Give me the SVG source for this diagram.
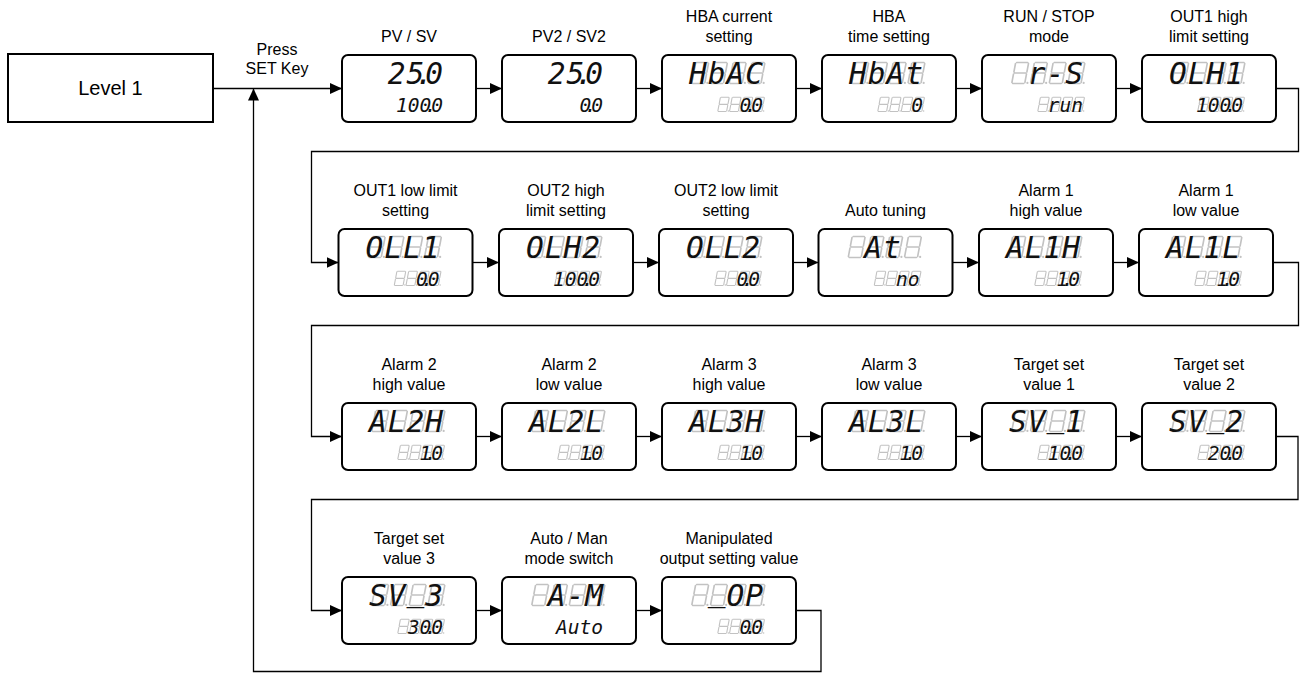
<svg xmlns="http://www.w3.org/2000/svg" width="1301" height="673" viewBox="0 0 1301 673">
<defs>
<style>
.box{fill:#fff;stroke:#000;stroke-width:2}
.lvl{fill:#fff;stroke:#000;stroke-width:2}
.lbl{font-family:"Liberation Sans",Arial,sans-serif;font-size:16px;text-anchor:middle;fill:#000}
.big1{font-family:"Liberation Sans",Arial,sans-serif;font-size:20px;text-anchor:middle;fill:#000}
.seg{font-family:"DejaVu Sans Mono",monospace;font-style:italic;fill:#111}
.t{font-size:29.5px}
.b{font-size:19.5px}
.ghost{fill:none;stroke:#c2c2c2;stroke-width:1.6;stroke-linecap:round}
.gdot{fill:#c2c2c2}
.conn{fill:none;stroke:#000;stroke-width:1.3}
</style>
<marker id="arr" markerWidth="12" markerHeight="11" refX="12" refY="5.5" orient="auto" markerUnits="userSpaceOnUse">
<path d="M0,0 L12,5.5 L0,11 z" fill="#000"/>
</marker>
<g id="cell">
<path class="ghost" d="M6.5,-21 L17.5,-21 M18.3,-20 L16.7,-11.5 M5.3,-20 L3.7,-11.5 M4.5,-10.5 L15.5,-10.5 M3.3,-9.5 L1.7,-1 M16.3,-9.5 L14.7,-1 M2.5,0 L13.5,0"/>
<circle class="gdot" cx="17.2" cy="-0.6" r="1.1"/>
</g>
<g id="gT">
<use href="#cell" transform="translate(28.2,28.5)"/>
<use href="#cell" transform="translate(46.95,28.5)"/>
<use href="#cell" transform="translate(65.7,28.5)"/>
<use href="#cell" transform="translate(84.45,28.5)"/>
</g>
<g id="gB">
<use href="#cell" transform="translate(54.7,56.5) scale(0.68)"/>
<use href="#cell" transform="translate(66.45,56.5) scale(0.68)"/>
<use href="#cell" transform="translate(78.2,56.5) scale(0.68)"/>
<use href="#cell" transform="translate(89.95,56.5) scale(0.68)"/>
</g>
</defs>
<rect width="1301" height="673" fill="#fff"/>

<g id="connectors">
<path class="conn" marker-end="url(#arr)" d="M214,88.5 H342"/>
<path class="conn" marker-end="url(#arr)" d="M476,88.5 H502"/>
<path class="conn" marker-end="url(#arr)" d="M636,88.5 H662"/>
<path class="conn" marker-end="url(#arr)" d="M796,88.5 H822"/>
<path class="conn" marker-end="url(#arr)" d="M956,88.5 H982"/>
<path class="conn" marker-end="url(#arr)" d="M1116,88.5 H1142"/>
<path class="conn" marker-end="url(#arr)" d="M1276,88.5 H1298.5 V151.5 H311.5 V262.5 H338.5"/>
<path class="conn" marker-end="url(#arr)" d="M472.5,262.5 H499"/>
<path class="conn" marker-end="url(#arr)" d="M633,262.5 H659"/>
<path class="conn" marker-end="url(#arr)" d="M793,262.5 H818.5"/>
<path class="conn" marker-end="url(#arr)" d="M952.5,262.5 H979"/>
<path class="conn" marker-end="url(#arr)" d="M1113,262.5 H1139"/>
<path class="conn" marker-end="url(#arr)" d="M1273,262.5 H1298.5 V325.5 H311.5 V436.5 H342"/>
<path class="conn" marker-end="url(#arr)" d="M476,436.5 H502"/>
<path class="conn" marker-end="url(#arr)" d="M636,436.5 H662"/>
<path class="conn" marker-end="url(#arr)" d="M796,436.5 H822"/>
<path class="conn" marker-end="url(#arr)" d="M956,436.5 H982"/>
<path class="conn" marker-end="url(#arr)" d="M1116,436.5 H1142"/>
<path class="conn" marker-end="url(#arr)" d="M1276,436.5 H1298 V499.5 H311.5 V610.5 H342"/>
<path class="conn" marker-end="url(#arr)" d="M476,610.5 H502"/>
<path class="conn" marker-end="url(#arr)" d="M636,610.5 H662"/>
<path class="conn" marker-end="url(#arr)" d="M796,610.5 H821 V671.5 H253.5 V88.5"/>
<text class="lbl" x="277" y="55">Press</text>
<text class="lbl" x="277" y="74">SET Key</text>
</g>

<g id="level1">
<rect class="lvl" x="8" y="54" width="205" height="68"/>
<text class="big1" x="110.5" y="95">Level 1</text>
</g>

<g id="n01" transform="translate(342,55)">
<rect class="box" width="134" height="67" rx="6"/>
<text class="lbl" x="67" y="-13.5">PV / SV</text>
<text class="seg t" x="45.75 64.5 73.6 83.25" y="28.5">25.0</text>
<text class="seg b" x="54 65.75 77.5 82.9 89.25" y="56.5">100.0</text>
</g>

<g id="n02" transform="translate(502,55)">
<rect class="box" width="134" height="67" rx="6"/>
<text class="lbl" x="67" y="-13.5">PV2 / SV2</text>
<text class="seg t" x="45.75 64.5 73.6 83.25" y="28.5">25.0</text>
<text class="seg b" x="77.5 82.9 89.25" y="56.5">0.0</text>
</g>

<g id="n03" transform="translate(662,55)">
<rect class="box" width="134" height="67" rx="6"/>
<text class="lbl" x="67" y="-33">HBA current</text>
<text class="lbl" x="67" y="-13.5">setting</text>
<use href="#gT"/><use href="#gB"/>
<text class="seg t" x="27 45.75 64.5 83.25" y="28.5">HbAC</text>
<text class="seg b" x="77.5 82.9 89.25" y="56.5">0.0</text>
</g>

<g id="n04" transform="translate(822,55)">
<rect class="box" width="134" height="67" rx="6"/>
<text class="lbl" x="67" y="-33">HBA</text>
<text class="lbl" x="67" y="-13.5">time setting</text>
<use href="#gT"/><use href="#gB"/>
<text class="seg t" x="27 45.75 64.5 83.25" y="28.5">HbAt</text>
<text class="seg b" x="89.25" y="56.5">0</text>
</g>

<g id="n05" transform="translate(982,55)">
<rect class="box" width="134" height="67" rx="6"/>
<text class="lbl" x="67" y="-33">RUN / STOP</text>
<text class="lbl" x="67" y="-13.5">mode</text>
<use href="#gT"/><use href="#gB"/>
<text class="seg t" x="45.75 64.5 83.25" y="28.5">r-S</text>
<text class="seg b" x="65.75 77.5 89.25" y="56.5">run</text>
</g>

<g id="n06" transform="translate(1142,55)">
<rect class="box" width="134" height="67" rx="6"/>
<text class="lbl" x="67" y="-33">OUT1 high</text>
<text class="lbl" x="67" y="-13.5">limit setting</text>
<use href="#gT"/><use href="#gB"/>
<text class="seg t" x="27 45.75 64.5 83.25" y="28.5">OLH1</text>
<text class="seg b" x="54 65.75 77.5 82.9 89.25" y="56.5">100.0</text>
</g>

<g id="n07" transform="translate(338.5,229)">
<rect class="box" width="134" height="67" rx="6"/>
<text class="lbl" x="67" y="-33">OUT1 low limit</text>
<text class="lbl" x="67" y="-13.5">setting</text>
<use href="#gT"/><use href="#gB"/>
<text class="seg t" x="27 45.75 64.5 83.25" y="28.5">OLL1</text>
<text class="seg b" x="77.5 82.9 89.25" y="56.5">0.0</text>
</g>

<g id="n08" transform="translate(499,229)">
<rect class="box" width="134" height="67" rx="6"/>
<text class="lbl" x="67" y="-33">OUT2 high</text>
<text class="lbl" x="67" y="-13.5">limit setting</text>
<use href="#gT"/><use href="#gB"/>
<text class="seg t" x="27 45.75 64.5 83.25" y="28.5">OLH2</text>
<text class="seg b" x="54 65.75 77.5 82.9 89.25" y="56.5">100.0</text>
</g>

<g id="n09" transform="translate(659,229)">
<rect class="box" width="134" height="67" rx="6"/>
<text class="lbl" x="67" y="-33">OUT2 low limit</text>
<text class="lbl" x="67" y="-13.5">setting</text>
<use href="#gT"/><use href="#gB"/>
<text class="seg t" x="27 45.75 64.5 83.25" y="28.5">OLL2</text>
<text class="seg b" x="77.5 82.9 89.25" y="56.5">0.0</text>
</g>

<g id="n10" transform="translate(818.5,229)">
<rect class="box" width="134" height="67" rx="6"/>
<text class="lbl" x="67" y="-13.5">Auto tuning</text>
<use href="#gT"/><use href="#gB"/>
<text class="seg t" x="45.75 64.5" y="28.5">At</text>
<text class="seg b" x="77.5 89.25" y="56.5">no</text>
</g>

<g id="n11" transform="translate(979,229)">
<rect class="box" width="134" height="67" rx="6"/>
<text class="lbl" x="67" y="-33">Alarm 1</text>
<text class="lbl" x="67" y="-13.5">high value</text>
<use href="#gT"/><use href="#gB"/>
<text class="seg t" x="27 45.75 64.5 83.25" y="28.5">AL1H</text>
<text class="seg b" x="77.5 82.9 89.25" y="56.5">1.0</text>
</g>

<g id="n12" transform="translate(1139,229)">
<rect class="box" width="134" height="67" rx="6"/>
<text class="lbl" x="67" y="-33">Alarm 1</text>
<text class="lbl" x="67" y="-13.5">low value</text>
<use href="#gT"/><use href="#gB"/>
<text class="seg t" x="27 45.75 64.5 83.25" y="28.5">AL1L</text>
<text class="seg b" x="77.5 82.9 89.25" y="56.5">1.0</text>
</g>

<g id="n13" transform="translate(342,403)">
<rect class="box" width="134" height="67" rx="6"/>
<text class="lbl" x="67" y="-33">Alarm 2</text>
<text class="lbl" x="67" y="-13.5">high value</text>
<use href="#gT"/><use href="#gB"/>
<text class="seg t" x="27 45.75 64.5 83.25" y="28.5">AL2H</text>
<text class="seg b" x="77.5 82.9 89.25" y="56.5">1.0</text>
</g>

<g id="n14" transform="translate(502,403)">
<rect class="box" width="134" height="67" rx="6"/>
<text class="lbl" x="67" y="-33">Alarm 2</text>
<text class="lbl" x="67" y="-13.5">low value</text>
<use href="#gT"/><use href="#gB"/>
<text class="seg t" x="27 45.75 64.5 83.25" y="28.5">AL2L</text>
<text class="seg b" x="77.5 82.9 89.25" y="56.5">1.0</text>
</g>

<g id="n15" transform="translate(662,403)">
<rect class="box" width="134" height="67" rx="6"/>
<text class="lbl" x="67" y="-33">Alarm 3</text>
<text class="lbl" x="67" y="-13.5">high value</text>
<use href="#gT"/><use href="#gB"/>
<text class="seg t" x="27 45.75 64.5 83.25" y="28.5">AL3H</text>
<text class="seg b" x="77.5 82.9 89.25" y="56.5">1.0</text>
</g>

<g id="n16" transform="translate(822,403)">
<rect class="box" width="134" height="67" rx="6"/>
<text class="lbl" x="67" y="-33">Alarm 3</text>
<text class="lbl" x="67" y="-13.5">low value</text>
<use href="#gT"/><use href="#gB"/>
<text class="seg t" x="27 45.75 64.5 83.25" y="28.5">AL3L</text>
<text class="seg b" x="77.5 82.9 89.25" y="56.5">1.0</text>
</g>

<g id="n17" transform="translate(982,403)">
<rect class="box" width="134" height="67" rx="6"/>
<text class="lbl" x="67" y="-33">Target set</text>
<text class="lbl" x="67" y="-13.5">value 1</text>
<use href="#gT"/><use href="#gB"/>
<text class="seg t" x="27 45.75" y="28.5">SV<tspan x="64.5" dy="-5">_</tspan><tspan x="83.25" dy="5">1</tspan></text>
<text class="seg b" x="65.75 77.5 82.9 89.25" y="56.5">10.0</text>
</g>

<g id="n18" transform="translate(1142,403)">
<rect class="box" width="134" height="67" rx="6"/>
<text class="lbl" x="67" y="-33">Target set</text>
<text class="lbl" x="67" y="-13.5">value 2</text>
<use href="#gT"/><use href="#gB"/>
<text class="seg t" x="27 45.75" y="28.5">SV<tspan x="64.5" dy="-5">_</tspan><tspan x="83.25" dy="5">2</tspan></text>
<text class="seg b" x="65.75 77.5 82.9 89.25" y="56.5">20.0</text>
</g>

<g id="n19" transform="translate(342,577)">
<rect class="box" width="134" height="67" rx="6"/>
<text class="lbl" x="67" y="-33">Target set</text>
<text class="lbl" x="67" y="-13.5">value 3</text>
<use href="#gT"/><use href="#gB"/>
<text class="seg t" x="27 45.75" y="28.5">SV<tspan x="64.5" dy="-5">_</tspan><tspan x="83.25" dy="5">3</tspan></text>
<text class="seg b" x="65.75 77.5 82.9 89.25" y="56.5">30.0</text>
</g>

<g id="n20" transform="translate(502,577)">
<rect class="box" width="134" height="67" rx="6"/>
<text class="lbl" x="67" y="-33">Auto / Man</text>
<text class="lbl" x="67" y="-13.5">mode switch</text>
<use href="#gT"/>
<text class="seg t" x="45.75 64.5 83.25" y="28.5">A-M</text>
<text class="seg b" x="54 65.75 77.5 89.25" y="56.5">Auto</text>
</g>

<g id="n21" transform="translate(662,577)">
<rect class="box" width="134" height="67" rx="6"/>
<text class="lbl" x="67" y="-33">Manipulated</text>
<text class="lbl" x="67" y="-13.5">output setting value</text>
<use href="#gT"/><use href="#gB"/>
<text class="seg t" x="45.75" y="23.5">_<tspan x="64.5" dy="5">O</tspan><tspan x="83.25">P</tspan></text>
<text class="seg b" x="77.5 82.9 89.25" y="56.5">0.0</text>
</g>
</svg>
